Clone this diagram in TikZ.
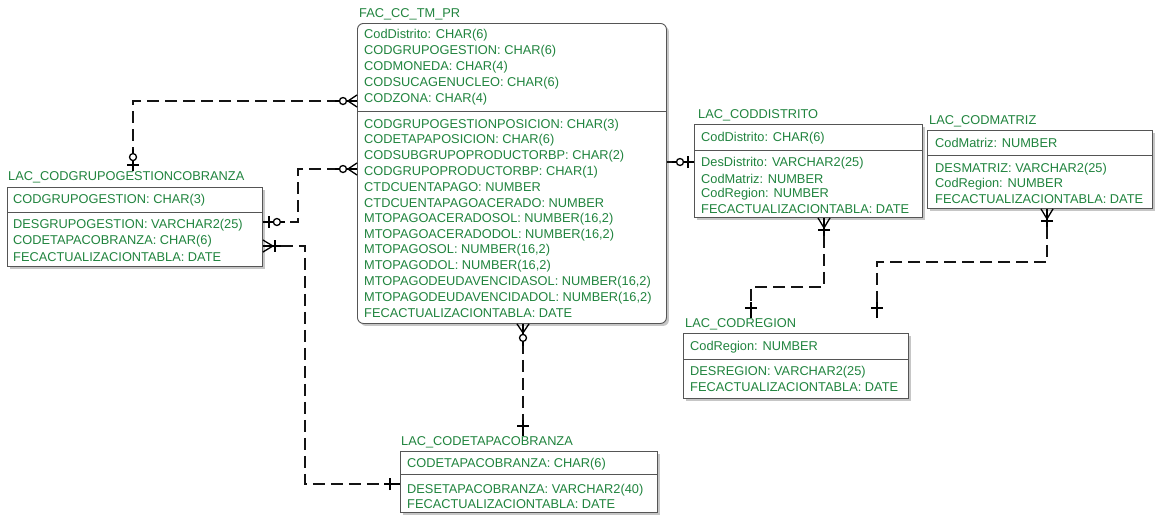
\documentclass[tikz,border=0pt]{standalone}
\usepackage{fontspec}
\setmainfont{Liberation Sans}
\usetikzlibrary{shadows}
\definecolor{ergreen}{RGB}{32,132,62}
\definecolor{erline}{RGB}{85,85,85}
\begin{document}
\begin{tikzpicture}[x=1pt,y=-1pt,
  tbox/.style={draw=erline, line width=0.9pt, fill=white, anchor=north west, inner sep=0,
    drop shadow={shadow xshift=2.5pt, shadow yshift=-2.5pt, fill=gray!45, opacity=1}},
  divider/.style={draw=erline, line width=0.9pt},
  ttl/.style={anchor=west, text=ergreen, inner sep=0, font=\fontsize{12.8}{14}\selectfont},
  row/.style={anchor=west, text=ergreen, inner sep=0, font=\fontsize{12.8}{14}\selectfont},
  rel/.style={draw=black!92, line width=2.2pt, dash pattern=on 12pt off 6pt},
  sym/.style={draw=black, line width=1.3pt},
  crowO/.pic={\draw[sym] (0,-6) -- (9,0) -- (0,6); \draw[sym] (0,0) -- (22,0);
              \draw[sym,fill=white] (14,0) circle (3.5);},
  crowbar/.pic={\draw[sym] (0,-6) -- (10,0) -- (0,6); \draw[sym] (0,0) -- (18,0);
                \draw[sym] (12,-6) -- (12,6);},
  barO/.pic={\draw[sym] (0,0) -- (22,0); \draw[sym] (6,-6) -- (6,6);
             \draw[sym,fill=white] (14,0) circle (3.5);},
  onebar/.pic={\draw[sym] (0,0) -- (16,0); \draw[sym] (10,-6) -- (10,6);}]
\useasboundingbox[fill=white] (0,0) rectangle (1162,515);

% ---------- FAC_CC_TM_PR ----------
\node[ttl] (mainT) at (359,14) {FAC\_CC\_TM\_PR};
\node[tbox, rounded corners=6pt, minimum width=309pt, minimum height=300pt] (main) at (357,23) {};
\draw[divider] (main.west |- 0,111) -- (main.east |- 0,111);
\node[row] (m1) at (364,35) {CodDistrito: CHAR(6)};
\node[row] (m2) at (364,51) {CODGRUPOGESTION: CHAR(6)};
\node[row] (m3) at (364,67) {CODMONEDA: CHAR(4)};
\node[row] (m4) at (364,83) {CODSUCAGENUCLEO: CHAR(6)};
\node[row] (m5) at (364,99) {CODZONA: CHAR(4)};
\node[row] (m6) at (364,125) {CODGRUPOGESTIONPOSICION: CHAR(3)};
\node[row] (m7) at (364,140) {CODETAPAPOSICION: CHAR(6)};
\node[row] (m8) at (364,156) {CODSUBGRUPOPRODUCTORBP: CHAR(2)};
\node[row] (m9) at (364,172) {CODGRUPOPRODUCTORBP: CHAR(1)};
\node[row] (m10) at (364,187) {CTDCUENTAPAGO: NUMBER};
\node[row] (m11) at (364,203) {CTDCUENTAPAGOACERADO: NUMBER};
\node[row] (m12) at (364,219) {MTOPAGOACERADOSOL: NUMBER(16,2)};
\node[row] (m13) at (364,235) {MTOPAGOACERADODOL: NUMBER(16,2)};
\node[row] (m14) at (364,250) {MTOPAGOSOL: NUMBER(16,2)};
\node[row] (m15) at (364,266) {MTOPAGODOL: NUMBER(16,2)};
\node[row] (m16) at (364,282) {MTOPAGODEUDAVENCIDASOL: NUMBER(16,2)};
\node[row] (m17) at (364,298) {MTOPAGODEUDAVENCIDADOL: NUMBER(16,2)};
\node[row] (m18) at (364,313) {FECACTUALIZACIONTABLA: DATE};

% ---------- LAC_CODGRUPOGESTIONCOBRANZA ----------
\node[ttl] (grpT) at (8,177) {LAC\_CODGRUPOGESTIONCOBRANZA};
\node[tbox, minimum width=255pt, minimum height=79pt] (grp) at (7,187) {};
\draw[divider] (grp.west |- 0,212) -- (grp.east |- 0,212);
\node[row] (g1) at (13,200) {CODGRUPOGESTION: CHAR(3)};
\node[row] (g2) at (13,225) {DESGRUPOGESTION: VARCHAR2(25)};
\node[row] (g3) at (13,241) {CODETAPACOBRANZA: CHAR(6)};
\node[row] (g4) at (13,257) {FECACTUALIZACIONTABLA: DATE};

% ---------- LAC_CODDISTRITO ----------
\node[ttl] (disT) at (698,115) {LAC\_CODDISTRITO};
\node[tbox, minimum width=228pt, minimum height=93pt] (dis) at (694,124) {};
\draw[divider] (dis.west |- 0,150) -- (dis.east |- 0,150);
\node[row] (d1) at (701,138) {CodDistrito: CHAR(6)};
\node[row] (d2) at (701,163) {DesDistrito: VARCHAR2(25)};
\node[row] (d3) at (701,179) {CodMatriz: NUMBER};
\node[row] (d4) at (701,194) {CodRegion: NUMBER};
\node[row] (d5) at (701,209) {FECACTUALIZACIONTABLA: DATE};

% ---------- LAC_CODMATRIZ ----------
\node[ttl] (matT) at (929,121) {LAC\_CODMATRIZ};
\node[tbox, minimum width=225pt, minimum height=78pt] (mat) at (927,130) {};
\draw[divider] (mat.west |- 0,155) -- (mat.east |- 0,155);
\node[row] (x1) at (935,143) {CodMatriz: NUMBER};
\node[row] (x2) at (935,169) {DESMATRIZ: VARCHAR2(25)};
\node[row] (x3) at (935,184) {CodRegion: NUMBER};
\node[row] (x4) at (935,199) {FECACTUALIZACIONTABLA: DATE};

% ---------- LAC_CODREGION ----------
\node[ttl] (regT) at (685,324) {LAC\_CODREGION};
\node[tbox, minimum width=225pt, minimum height=65pt] (reg) at (683,333) {};
\draw[divider] (reg.west |- 0,359) -- (reg.east |- 0,359);
\node[row] (r1) at (690,347) {CodRegion: NUMBER};
\node[row] (r2) at (690,372) {DESREGION: VARCHAR2(25)};
\node[row] (r3) at (690,387) {FECACTUALIZACIONTABLA: DATE};

% ---------- LAC_CODETAPACOBRANZA ----------
\node[ttl] (etaT) at (401,442) {LAC\_CODETAPACOBRANZA};
\node[tbox, minimum width=257pt, minimum height=61pt] (eta) at (400,451) {};
\draw[divider] (eta.west |- 0,474) -- (eta.east |- 0,474);
\node[row] (e1) at (407,464) {CODETAPACOBRANZA: CHAR(6)};
\node[row] (e2) at (407,490) {DESETAPACOBRANZA: VARCHAR2(40)};
\node[row] (e3) at (407,504) {FECACTUALIZACIONTABLA: DATE};

% ---------- relationships ----------
% grupo gestion cobranza -> fact (CODZONA side)
\coordinate (k1) at (133,101);
\draw[rel] (main.west |- k1) -- (k1) -- (k1 |- grpT.north);
\pic[rotate=180] at (main.west |- k1) {crowO};
\pic[rotate=90] at (k1 |- grpT.north) {barO};

% grupo gestion cobranza -> fact (second key)
\coordinate (k2a) at (298,169);
\coordinate (k2b) at (298,222);
\draw[rel] (main.west |- k2a) -- (k2a) -- (k2b) -- (grp.east |- k2b);
\pic[rotate=180] at (main.west |- k2a) {crowO};
\pic at (grp.east |- k2b) {barO};

% etapa cobranza -> grupo gestion cobranza
\coordinate (k3a) at (305,246);
\coordinate (k3b) at (305,484);
\draw[rel] (grp.east |- k3a) -- (k3a) -- (k3b) -- (eta.west |- k3b);
\pic at (grp.east |- k3a) {crowbar};
\pic[rotate=180] at (eta.west |- k3b) {onebar};

% etapa cobranza -> fact
\coordinate (k4) at (523,0);
\draw[rel] (main.south -| k4) -- (k4 |- etaT.north);
\pic[rotate=-90] at (main.south -| k4) {crowO};
\pic[rotate=90] at (k4 |- etaT.north) {onebar};

% distrito -> fact
\coordinate (k5) at (0,162);
\draw[rel] (main.east |- k5) -- (dis.west |- k5);
\pic[rotate=180] at (dis.west |- k5) {barO};

% region -> distrito
\coordinate (k6a) at (824,287);
\coordinate (k6b) at (751,287);
\draw[rel] (dis.south -| k6a) -- (k6a) -- (k6b) -- (k6b |- regT.north);
\pic[rotate=-90] at (dis.south -| k6a) {crowbar};
\pic[rotate=90] at (k6b |- regT.north) {onebar};

% region -> matriz
\coordinate (k7a) at (1047,262);
\coordinate (k7b) at (877,262);
\draw[rel] (mat.south -| k7a) -- (k7a) -- (k7b) -- (k7b |- regT.north);
\pic[rotate=-90] at (mat.south -| k7a) {crowbar};
\pic[rotate=90] at (k7b |- regT.north) {onebar};
\end{tikzpicture}
\end{document}
